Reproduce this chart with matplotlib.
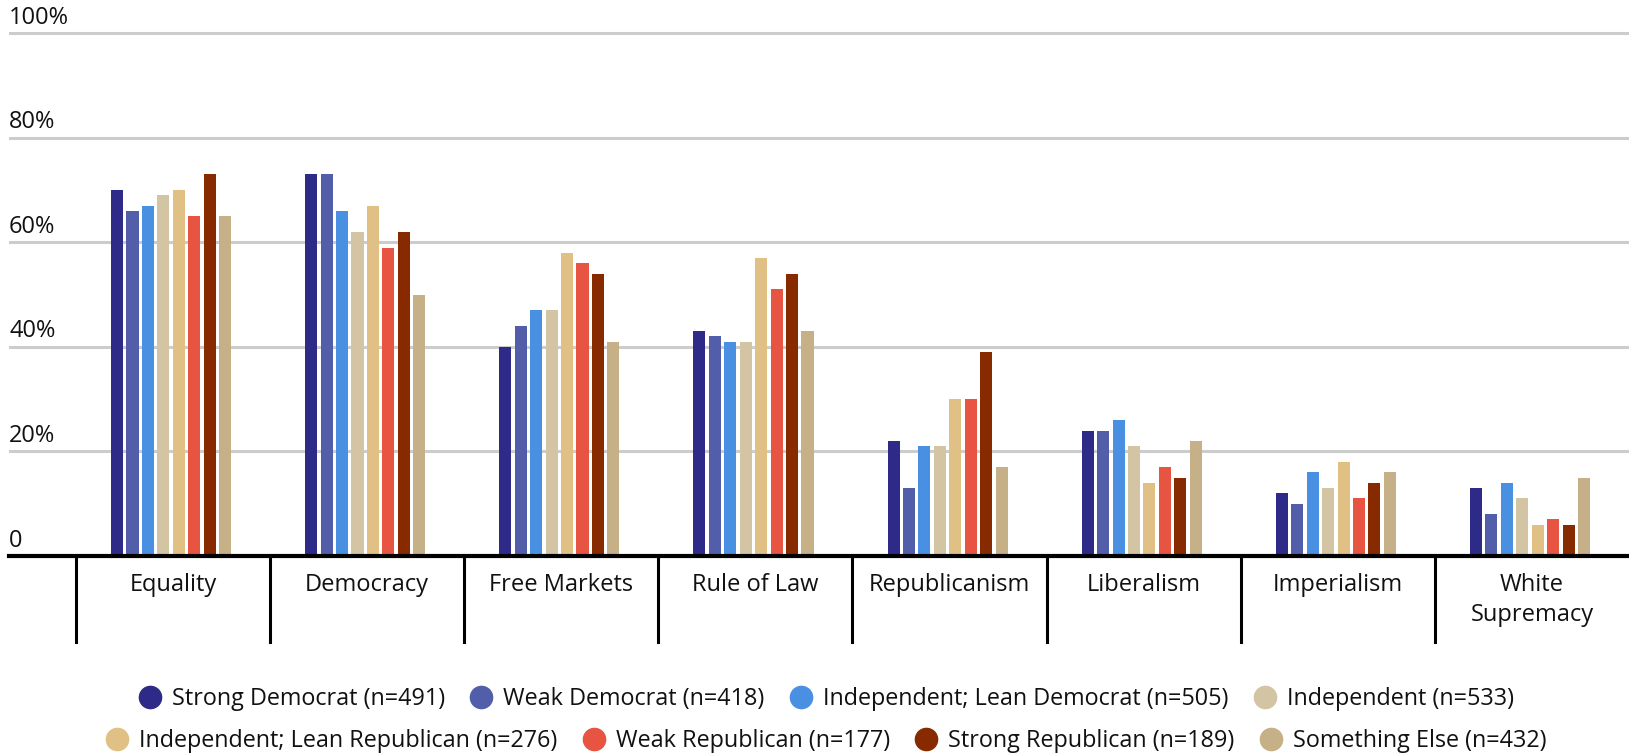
import matplotlib.pyplot as plt
from matplotlib.lines import Line2D
import numpy as np

plt.rcParams['font.family'] = ['Open Sans', 'DejaVu Sans']

# categories and series
categories = ['Equality', 'Democracy', 'Free Markets', 'Rule of Law',
              'Republicanism', 'Liberalism', 'Imperialism', 'White\nSupremacy']
groups = ['Strong Democrat (n=491)', 'Weak Democrat (n=418)',
          'Independent; Lean Democrat (n=505)', 'Independent (n=533)',
          'Independent; Lean Republican (n=276)', 'Weak Republican (n=177)',
          'Strong Republican (n=189)', 'Something Else (n=432)']
colors = ['#2E2A87', '#525EA9', '#4A90E2', '#D3C4A4',
          '#E0C085', '#E85442', '#872A00', '#C5B087']

strong_dem = [70, 73, 40, 43, 22, 24, 12, 13]
weak_dem = [66, 73, 44, 42, 13, 24, 10, 8]
ind_lean_dem = [67, 66, 47, 41, 21, 26, 16, 14]
independent = [69, 62, 47, 41, 21, 21, 13, 11]
ind_lean_rep = [70, 67, 58, 57, 30, 14, 18, 6]
weak_rep = [65, 59, 56, 51, 30, 17, 11, 7]
strong_rep = [73, 62, 54, 54, 39, 15, 14, 6]
something_else = [65, 50, 41, 43, 17, 22, 16, 15]
series = [strong_dem, weak_dem, ind_lean_dem, independent,
          ind_lean_rep, weak_rep, strong_rep, something_else]

yticks = [0, 20, 40, 60, 80, 100]
ytick_labels = ['0', '20%', '40%', '60%', '80%', '100%']

W, H = 1629, 755
fig = plt.figure(figsize=(W / 100, H / 100), dpi=100)
ax_h = 549
ax = fig.add_axes([9 / W, (H - 556) / H, 1 - 9 / W, ax_h / H])

x = np.arange(len(categories))
pitch = 0.0795
width = 0.062
for i, (vals, col) in enumerate(zip(series, colors)):
    offs = (i - 3.5) * pitch - 0.01
    ax.bar(x + offs, vals, width=width, color=col, zorder=3)

ax.set_xlim(-0.845, 7.5)
ax.set_ylim(0, 105)

# gridlines and y labels inside the plot
for t, lab in zip(yticks, ytick_labels):
    if t > 0:
        ax.axhline(t, color='#CCCCCC', lw=2.2, zorder=1)
    ax.text(0, t + 1.8, lab, transform=ax.get_yaxis_transform(),
            ha='left', va='baseline', fontsize=17, color='#111111')
ax.axhline(0, color='black', lw=3, zorder=4, clip_on=False)

# category separators and labels below the axis
trans = ax.get_xaxis_transform()
for i in range(len(categories)):
    ax.plot([i - 0.5, i - 0.5], [0, -86 / ax_h], color='black', lw=2.2,
            transform=trans, clip_on=False)
    ax.text(i, -17 / ax_h, categories[i], transform=trans, ha='center',
            va='top', fontsize=17, color='#111111', linespacing=1.35)

ax.set_xticks([])
ax.set_yticks([])
for s in ax.spines.values():
    s.set_visible(False)

handles = [Line2D([0], [0], marker='o', color='w', markerfacecolor=c,
                  markeredgecolor=c, markersize=16) for c in colors]
for row, yy in enumerate([699, 741]):
    sl = slice(row * 4, row * 4 + 4)
    fig.legend(handles[sl], groups[sl], loc='center',
               bbox_to_anchor=(0.507, 1 - yy / H), ncol=4, frameon=False,
               fontsize=16.8, handlelength=1.0, handletextpad=0.45,
               columnspacing=1.05, borderpad=0, labelcolor='#111111')

fig.savefig('out.png', dpi=100)
